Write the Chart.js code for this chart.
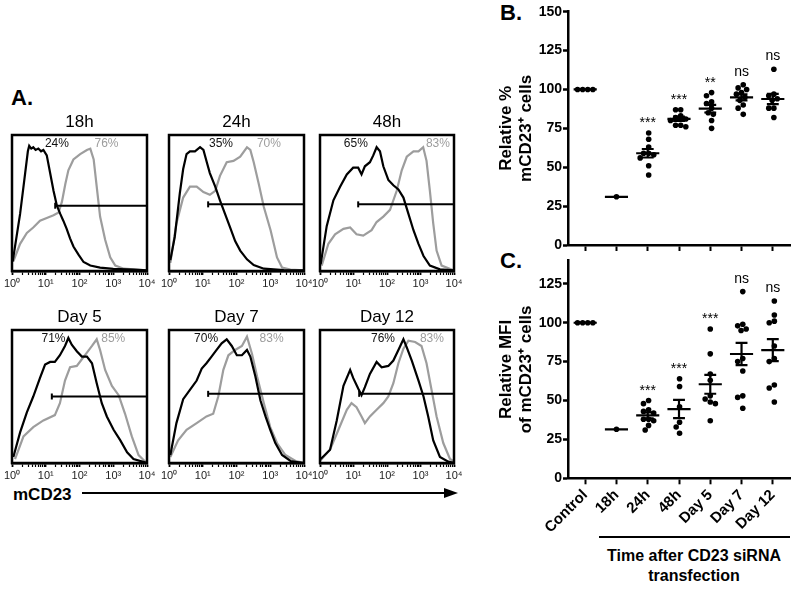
<!DOCTYPE html>
<html>
<head>
<meta charset="utf-8">
<script src="https://cdn.jsdelivr.net/npm/chart.js@4.4.1/dist/chart.umd.min.js"></script>
<style>
  body { margin: 0; background: #fff; }
  #fig { position: relative; width: 800px; height: 589px; overflow: hidden; font-family: "Liberation Sans", Arial, sans-serif; color: #000; }
  #fig canvas { position: absolute; }
  .txt { position: absolute; font-weight: bold; line-height: 1; white-space: nowrap; }
</style>
</head>
<body>
<div id="fig">
  <div class="txt" style="left:11px;top:87px;font-size:22px">A.</div>
  <div class="txt" style="left:500px;top:2px;font-size:22px">B.</div>
  <div class="txt" style="left:500px;top:250px;font-size:22px">C.</div>
  <div class="txt" style="left:13px;top:486px;font-size:17px">mCD23</div>
  <svg style="position:absolute;left:0;top:0" width="800" height="589">
    <line x1="82" y1="493" x2="447" y2="493" stroke="#000" stroke-width="2"/>
    <polygon points="444,488 458,493 444,498" fill="#000"/>
  </svg>
  <div style="position:absolute;left:599px;top:536px;width:191px;height:2px;background:#000"></div>
  <div class="txt" style="left:594px;top:546px;width:200px;text-align:center;font-size:16px;line-height:20px">Time after CD23 siRNA<br>transfection</div>
</div>

<script>
// ---- panel A: flow histograms (x = log10 intensity, y = fraction of frame height)
const histTitles = ['18h', '24h', '48h', 'Day 5', 'Day 7', 'Day 12'];
const pctBlack = ['24%', '35%', '65%', '71%', '70%', '76%'];
const pctGrey = ['76%', '70%', '83%', '85%', '83%', '83%'];
const decadeLabels = ['10\u2070', '10\u00b9', '10\u00b2', '10\u00b3', '10\u2074'];

const black18h = [[0.02,0.07],[0.24,0.42],[0.39,0.72],[0.47,0.88],[0.51,0.92],[0.57,0.90],[0.63,0.91],[0.70,0.89],[0.78,0.90],[0.86,0.88],[0.93,0.89],[1.03,0.85],[1.13,0.72],[1.23,0.59],[1.33,0.48],[1.43,0.42],[1.52,0.37],[1.62,0.31],[1.72,0.24],[1.82,0.18],[1.97,0.12],[2.12,0.066],[2.32,0.04],[2.61,0.025],[3.0,0.015],[3.6,0.01],[4.0,0.005]];
const grey18h = [[0.04,0.07],[0.24,0.20],[0.44,0.28],[0.63,0.32],[0.83,0.37],[1.03,0.39],[1.23,0.41],[1.38,0.43],[1.48,0.51],[1.58,0.64],[1.67,0.74],[1.82,0.82],[2.02,0.86],[2.22,0.89],[2.32,0.90],[2.42,0.82],[2.51,0.62],[2.61,0.40],[2.76,0.23],[2.91,0.10],[3.06,0.04],[3.31,0.017],[4.0,0.005]];
const black24h = [[0.04,0.08],[0.17,0.25],[0.32,0.57],[0.42,0.75],[0.52,0.86],[0.62,0.88],[0.77,0.88],[0.92,0.91],[1.02,0.89],[1.12,0.80],[1.21,0.72],[1.37,0.62],[1.51,0.52],[1.66,0.42],[1.81,0.32],[1.96,0.22],[2.11,0.15],[2.31,0.086],[2.51,0.044],[2.81,0.017],[3.4,0.007],[4.0,0.005]];
const grey24h = [[0.04,0.06],[0.22,0.35],[0.42,0.54],[0.62,0.62],[0.82,0.62],[1.02,0.58],[1.21,0.56],[1.37,0.59],[1.51,0.70],[1.71,0.80],[1.91,0.81],[2.11,0.84],[2.31,0.91],[2.41,0.89],[2.51,0.80],[2.66,0.64],[2.81,0.47],[3.01,0.30],[3.2,0.10],[3.35,0.025],[3.6,0.01],[4.0,0.005]];
const black48h = [[0.02,0.05],[0.2,0.33],[0.40,0.52],[0.60,0.62],[0.80,0.71],[0.99,0.76],[1.14,0.76],[1.24,0.71],[1.34,0.77],[1.49,0.80],[1.59,0.85],[1.69,0.91],[1.79,0.88],[1.89,0.77],[2.04,0.67],[2.19,0.63],[2.34,0.60],[2.49,0.54],[2.64,0.42],[2.79,0.30],[2.94,0.20],[3.09,0.11],[3.28,0.04],[3.58,0.012],[4.0,0.005]];
const grey48h = [[0.05,0.04],[0.25,0.20],[0.45,0.27],[0.70,0.31],[0.90,0.32],[1.09,0.27],[1.29,0.26],[1.54,0.30],[1.69,0.36],[1.89,0.40],[2.09,0.45],[2.29,0.59],[2.44,0.74],[2.59,0.84],[2.79,0.88],[2.94,0.88],[3.08,0.91],[3.18,0.81],[3.28,0.59],[3.38,0.35],[3.48,0.15],[3.63,0.04],[4.0,0.005]];
const blackDay5 = [[0.04,0.045],[0.24,0.23],[0.44,0.38],[0.63,0.50],[0.83,0.64],[0.98,0.74],[1.13,0.76],[1.27,0.76],[1.42,0.81],[1.57,0.88],[1.67,0.94],[1.77,0.89],[1.92,0.84],[2.07,0.80],[2.22,0.80],[2.37,0.75],[2.51,0.60],[2.66,0.45],[2.81,0.35],[3.01,0.25],[3.21,0.17],[3.41,0.08],[3.6,0.03],[4.0,0.0]];
const greyDay5 = [[0.09,0.03],[0.34,0.20],[0.63,0.27],[0.93,0.32],[1.27,0.36],[1.42,0.45],[1.57,0.62],[1.72,0.72],[1.92,0.73],[2.07,0.78],[2.22,0.83],[2.37,0.88],[2.51,0.93],[2.61,0.85],[2.76,0.70],[2.96,0.58],[3.16,0.51],[3.35,0.37],[3.55,0.20],[3.75,0.06],[3.95,0.01]];
const blackDay7 = [[0.04,0.06],[0.22,0.30],[0.42,0.48],[0.62,0.55],[0.82,0.62],[0.97,0.71],[1.11,0.75],[1.26,0.80],[1.41,0.85],[1.56,0.90],[1.71,0.93],[1.86,0.88],[2.01,0.81],[2.16,0.81],[2.31,0.85],[2.41,0.80],[2.56,0.65],[2.71,0.47],[2.86,0.35],[3.0,0.25],[3.15,0.15],[3.35,0.06],[3.6,0.015],[4.0,0.0]];
const greyDay7 = [[0.04,0.045],[0.27,0.17],[0.52,0.25],[0.82,0.30],[1.11,0.35],[1.31,0.37],[1.46,0.50],[1.61,0.70],[1.76,0.81],[1.96,0.85],[2.16,0.88],[2.31,0.95],[2.46,0.82],[2.61,0.65],[2.81,0.45],[3.0,0.27],[3.2,0.15],[3.45,0.06],[3.75,0.015],[4.0,0.0]];
const blackDay12 = [[0.02,0.03],[0.30,0.10],[0.50,0.32],[0.70,0.58],[0.90,0.70],[0.99,0.64],[1.14,0.56],[1.24,0.51],[1.34,0.57],[1.49,0.67],[1.69,0.76],[1.84,0.72],[2.04,0.73],[2.19,0.77],[2.34,0.85],[2.49,0.93],[2.59,0.87],[2.74,0.77],[2.94,0.62],[3.09,0.50],[3.23,0.35],[3.38,0.17],[3.58,0.045],[3.83,0.01],[4.0,0.0]];
const greyDay12 = [[0.02,0.02],[0.30,0.10],[0.55,0.25],[0.80,0.40],[0.94,0.45],[1.09,0.42],[1.24,0.35],[1.34,0.30],[1.49,0.35],[1.69,0.40],[1.89,0.45],[2.04,0.50],[2.19,0.60],[2.34,0.75],[2.49,0.86],[2.64,0.92],[2.84,0.91],[3.03,0.88],[3.18,0.75],[3.33,0.55],[3.48,0.35],[3.68,0.15],[3.88,0.03],[4.0,0.01]];

const blackCurves = [black18h, black24h, black48h, blackDay5, blackDay7, blackDay12];
const greyCurves = [grey18h, grey24h, grey48h, greyDay5, greyDay7, greyDay12];
const gateStart = [1.28, 1.16, 1.14, 1.18, 1.16, 1.17];
const gateLevel = [0.48, 0.49, 0.49, 0.50, 0.52, 0.52];

// ---- panels B and C
const groups = ['Control', '18h', '24h', '48h', 'Day 5', 'Day 7', 'Day 12'];
const pctCells = [
  [100, 100, 100, 100],
  [31],
  [72, 68, 63, 59, 59, 58, 56, 51, 45],
  [87, 87, 83, 82, 81, 80, 77, 77, 76],
  [98, 96, 92, 91, 88, 85, 84, 80, 75],
  [103, 101, 100, 98, 97, 95, 93, 90, 88, 84],
  [113, 97, 96, 94, 93, 88, 88, 82]
];
const mfiCells = [
  [100, 100, 100, 100],
  [31.5],
  [50, 48, 44, 43, 42, 38, 38, 37, 34, 31],
  [64, 59, 46, 36, 33, 29],
  [96, 80, 67, 63, 53, 51, 49, 48, 37],
  [120, 99, 98, 96, 95, 77, 75, 69, 53, 52, 45],
  [114, 105, 101, 100, 85, 77, 75, 60, 58, 49]
];
const pctSig = ['', '', '***', '***', '**', 'ns', 'ns'];
const mfiSig = ['', '', '***', '***', '***', 'ns', 'ns'];
const pctTicks = [0, 25, 50, 75, 100, 125, 150];
const mfiTicks = [0, 25, 50, 75, 100, 125];

Chart.defaults.font.family = '"Liberation Sans", Arial, sans-serif';
Chart.defaults.color = '#000';
Chart.defaults.animation = false;

const fig = document.getElementById('fig');
const GREY = '#9d9d9d';

function addCanvas(left, top, w, h) {
  const c = document.createElement('canvas');
  c.width = w; c.height = h;
  c.style.left = left + 'px'; c.style.top = top + 'px';
  c.style.width = w + 'px'; c.style.height = h + 'px';
  fig.appendChild(c);
  return c;
}

// log axis ticks: decades plus minor 2..9
const logTicks = [];
for (let d = 0; d < 4; d++) {
  for (let k = 1; k < 10; k++) logTicks.push(d + Math.log10(k));
}
logTicks.push(4);

const colLeft = [12, 169, 320];
const colWidth = [135, 135, 134];
const rowTop = [135, 330];
const rowHeight = [136, 133];
const labelAt = [[1.33, 2.8], [1.54, 2.96], [1.07, 3.52], [1.23, 3.0], [1.1, 3.04], [1.88, 3.34]];

function toXY(pairs) {
  return pairs.map(p => ({ x: p[0], y: p[1] }));
}

histTitles.forEach((title, i) => {
  const col = i % 3, row = Math.floor(i / 3);
  const padL = 14, padR = 14, padT = 26, axisH = 22;
  const w = colWidth[col], h = rowHeight[row];
  const canvas = addCanvas(colLeft[col] - padL, rowTop[row] - padT, w + padL + padR, h + padT + axisH);

  const decor = {
    id: 'histDecor' + i,
    afterDraw(chart) {
      const { ctx, chartArea: a, scales } = chart;
      ctx.save();
      ctx.strokeStyle = '#000';
      ctx.lineWidth = 2.5;
      ctx.strokeRect(a.left, a.top, a.right - a.left, a.bottom - a.top);
      ctx.fillStyle = '#000';
      ctx.font = '17px "Liberation Sans", Arial, sans-serif';
      ctx.textAlign = 'center';
      ctx.textBaseline = 'alphabetic';
      ctx.fillText(title, (a.left + a.right) / 2, a.top - 8);
      ctx.font = '12px "Liberation Sans", Arial, sans-serif';
      ctx.textBaseline = 'middle';
      const py = scales.y.getPixelForValue(0.935);
      ctx.fillStyle = '#111';
      ctx.fillText(pctBlack[i], scales.x.getPixelForValue(labelAt[i][0]), py);
      ctx.fillStyle = GREY;
      ctx.fillText(pctGrey[i], scales.x.getPixelForValue(labelAt[i][1]), py);
      ctx.restore();
    }
  };

  new Chart(canvas, {
    type: 'line',
    data: {
      datasets: [
        {
          data: [{ x: gateStart[i], y: gateLevel[i] }, { x: 4, y: gateLevel[i] }],
          borderColor: '#000', borderWidth: 2,
          pointStyle: 'line', pointRotation: 90, pointRadius: [3, 0],
          pointBorderColor: '#000', pointBorderWidth: 2
        },
        { data: toXY(blackCurves[i]), borderColor: '#000', borderWidth: 2.2, pointRadius: 0, tension: 0 },
        { data: toXY(greyCurves[i]), borderColor: GREY, borderWidth: 2.2, pointRadius: 0, tension: 0 }
      ]
    },
    options: {
      responsive: false,
      devicePixelRatio: 1,
      layout: { padding: { left: padL, right: padR, top: padT, bottom: 0 } },
      plugins: { legend: { display: false }, tooltip: { enabled: false } },
      scales: {
        x: {
          type: 'linear', min: 0, max: 4,
          afterBuildTicks: s => { s.ticks = logTicks.map(v => ({ value: v })); },
          afterFit: s => { s.height = axisH; },
          grid: {
            drawOnChartArea: false, tickLength: 4, tickColor: '#000',
            tickWidth: c => (c.tick && Number.isInteger(c.tick.value) ? 1.8 : 1.2)
          },
          border: { display: true, color: '#000', width: 2.5 },
          ticks: {
            autoSkip: false, maxRotation: 0, padding: 2,
            font: { size: 11 }, color: '#222',
            callback: v => (Number.isInteger(v) ? decadeLabels[v] : '')
          }
        },
        y: { type: 'linear', min: 0, max: 1, display: false }
      }
    },
    plugins: [decor]
  });
});

// ---- dot plots
const unitPxX = 222 / 7.1;
function mean(a) { return a.reduce((s, v) => s + v, 0) / a.length; }
function sem(a) {
  if (a.length < 2) return 0;
  const m = mean(a);
  const sd = Math.sqrt(a.reduce((s, v) => s + (v - m) * (v - m), 0) / (a.length - 1));
  return sd / Math.sqrt(a.length);
}

// simple beeswarm so equal values sit side by side
function swarm(vals, gx, unitPxY) {
  const dot = 5, step = 1.7;
  const placed = [];
  vals.slice().sort((a, b) => b - a).forEach(v => {
    for (let k = 0; k < 60; k++) {
      const off = (k % 2 ? -1 : 1) * Math.ceil(k / 2) * step;
      const ok = placed.every(p => Math.hypot(p.off - off, (p.v - v) * unitPxY) >= dot);
      if (ok) { placed.push({ v, off }); break; }
    }
  });
  const shift = placed.length ? mean(placed.map(p => p.off)) : 0;
  return placed.map(p => ({ x: gx + (p.off - shift) / unitPxX, y: p.v }));
}

function summaryLines(sets) {
  const pts = [];
  sets.forEach((vals, i) => {
    const m = mean(vals), s = sem(vals);
    pts.push({ x: i - 0.37, y: m }, { x: i + 0.37, y: m }, { x: i, y: null });
    if (s > 0) {
      pts.push({ x: i - 0.19, y: m + s }, { x: i + 0.19, y: m + s }, { x: i, y: null });
      pts.push({ x: i, y: m + s }, { x: i, y: m - s }, { x: i, y: null });
      pts.push({ x: i - 0.19, y: m - s }, { x: i + 0.19, y: m - s }, { x: i, y: null });
    }
  });
  return pts;
}

function dotPlot(opts) {
  const { left, top, width, height, padTop, axisH, sets, sig, ticks, yMax, title, showLabels } = opts;
  const canvas = addCanvas(left, top, width, height);
  const areaH = height - padTop - axisH;
  const unitPxY = areaH / yMax;
  const dots = [];
  sets.forEach((vals, i) => swarm(vals, i, unitPxY).forEach(p => dots.push(p)));

  const sigPlugin = {
    id: 'sig',
    afterDatasetsDraw(chart) {
      const { ctx, scales } = chart;
      ctx.save();
      ctx.fillStyle = '#000';
      ctx.font = '14px "Liberation Sans", Arial, sans-serif';
      ctx.textAlign = 'center';
      ctx.textBaseline = 'alphabetic';
      sig.forEach((label, i) => {
        if (!label) return;
        const m = ctx.measureText(label);
        const yc = scales.y.getPixelForValue(Math.max(...sets[i])) - 13;
        const base = yc + (m.actualBoundingBoxAscent - m.actualBoundingBoxDescent) / 2;
        ctx.fillText(label, scales.x.getPixelForValue(i), base);
      });
      ctx.restore();
    }
  };

  new Chart(canvas, {
    type: 'scatter',
    data: {
      datasets: [
        { data: dots, pointRadius: 2.8, pointBackgroundColor: '#000', pointBorderWidth: 0 },
        {
          type: 'line', data: summaryLines(sets), showLine: true, spanGaps: false,
          borderColor: '#000', borderWidth: 2.2, pointRadius: 0, tension: 0
        }
      ]
    },
    options: {
      responsive: false,
      devicePixelRatio: 1,
      layout: { padding: { left: 0, right: 10, top: padTop, bottom: 0 } },
      plugins: { legend: { display: false }, tooltip: { enabled: false } },
      scales: {
        x: {
          type: 'linear', min: -0.55, max: 6.55,
          afterBuildTicks: s => { s.ticks = groups.map((g, i) => ({ value: i })); },
          afterFit: s => { s.height = axisH; },
          grid: { drawOnChartArea: false, tickLength: 6, tickColor: '#000', tickWidth: 2 },
          border: { color: '#000', width: 2.5 },
          ticks: {
            display: showLabels, autoSkip: false, maxRotation: 45, minRotation: 45, padding: 2,
            font: { size: 15, weight: 'bold' },
            callback: v => groups[v]
          }
        },
        y: {
          type: 'linear', min: 0, max: yMax,
          afterBuildTicks: s => { s.ticks = ticks.map(v => ({ value: v })); },
          afterFit: s => { s.width = 88; },
          grid: { drawOnChartArea: false, tickLength: 5, tickColor: '#000', tickWidth: 2.5 },
          border: { color: '#000', width: 2.5 },
          ticks: { padding: 1, font: { size: 14, weight: 'bold' } },
          title: {
            display: true, text: title,
            font: { size: 17, weight: 'bold', lineHeight: 1.18 },
            padding: { top: 16.5, bottom: 0 }
          }
        }
      }
    },
    plugins: [sigPlugin]
  });
}

dotPlot({
  left: 480, top: 0, width: 320, height: 258, padTop: 11.7, axisH: 13,
  sets: pctCells, sig: pctSig, ticks: pctTicks, yMax: 150,
  title: ['Relative %', 'mCD23\u207a cells'], showLabels: false
});

dotPlot({
  left: 480, top: 250, width: 320, height: 339, padTop: 10.5, axisH: 110.7,
  sets: mfiCells, sig: mfiSig, ticks: mfiTicks, yMax: 140,
  title: ['Relative MFI', 'of mCD23\u207a cells'], showLabels: true
});
</script>
</body>
</html>
